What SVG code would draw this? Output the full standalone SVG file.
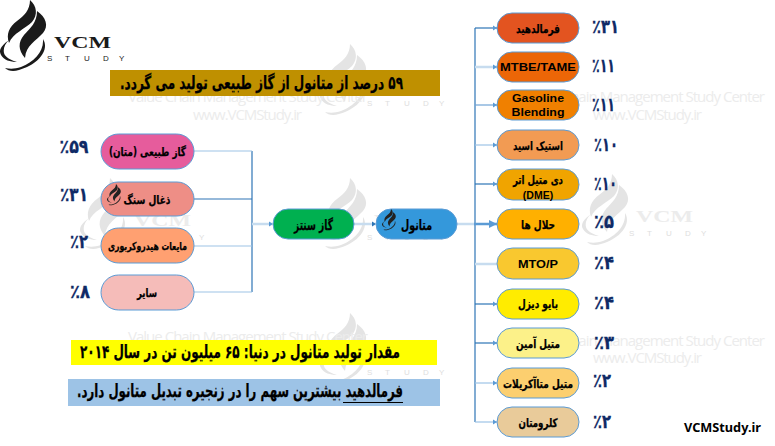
<svg xmlns="http://www.w3.org/2000/svg" width="775" height="446" viewBox="0 0 775 446">
<style>
text{font-family:"DejaVu Sans","Noto Sans",sans-serif;font-weight:700;fill:#000;text-anchor:middle}
.fa{direction:rtl;stroke:#000;stroke-width:.25}
.n{stroke:#5b9bd5;stroke-width:1}
.pct{fill:#0f2a66;font-size:19px;stroke:#0f2a66;stroke-width:.3}
.wm{font-family:"Open Sans","Noto Sans",sans-serif;font-weight:400;fill:#ececec;font-size:15px;text-anchor:start}
.c{fill:none;stroke:#2e75b6;stroke-width:1.2}
.m{stroke:#6fa3d6}.l{stroke:#9dc3e6}.p{stroke:#c7dcef;stroke-width:2.5}
.vcm{font-family:"Liberation Serif",serif;font-size:17px;text-anchor:start}
.st{font-family:"Liberation Sans",sans-serif;font-weight:400;font-size:8px;text-anchor:start}
.la{font-family:"Liberation Sans",sans-serif;font-size:10.500px}
</style>
<defs>
<marker id="a" markerWidth="5" markerHeight="6" refX="4" refY="3" orient="auto" markerUnits="userSpaceOnUse"><path d="M0 .5L4 3L0 5.500Z" fill="#5b9bd5"/></marker>
<marker id="b" markerWidth="9" markerHeight="8" refX="8" refY="4" orient="auto" markerUnits="userSpaceOnUse"><path d="M0 0L8 4L0 8Z" fill="#5b9bd5"/></marker>
<g id="logo">
<path d="M30 0C37 6 38 15 32 22C25 29 13 33 9 43C6 34 9 27 17 21C24 16 30 10 30 0Z"/>
<path d="M37 11C46 17 49 26 43 33C36 41 26 45 25 58C18 50 18 42 24 35C30 28 37 23 37 11Z"/>
<path d="M43 39C50 50 38 65 19 70C13 72 8 71 5 68C10 69 15 69 21 67C34 62 44 52 43 39ZM9 40C2 45-2 50 1 55C4 60 10 62 17 62C10 60 5 57 4 53C3 48 5 44 9 40Z"/>
</g>
<g id="wmk" fill="#e4e4e4"><use href="#logo"/>
<text class="vcm" x="54" y="48" style="fill:#ececec" textLength="57" lengthAdjust="spacingAndGlyphs">VCM</text>
<text class="st" x="47 65 84 103 119" y="62" style="fill:#dedede">STUDY</text></g>
</defs>
<rect width="775" height="446" fill="#fff"/>
<g id="watermarks">
<use href="#wmk" transform="translate(320 44)"/>
<use href="#wmk" transform="translate(320 178)"/>
<use href="#wmk" transform="translate(80 178)"/>
<use href="#wmk" transform="translate(582 174)"/>
<use href="#wmk" transform="translate(320 313)"/>
<text class="wm" x="128" y="102" textLength="240">Value Chain Management Study Center</text>
<text class="wm" x="193" y="120" textLength="109">www.VCMStudy.ir</text>
<text class="wm" x="525" y="102" textLength="240">Value Chain Management Study Center</text>
<text class="wm" x="593" y="120" textLength="109">www.VCMStudy.ir</text>
<text class="wm" x="128" y="342" textLength="240">Value Chain Management Study Center</text>
<text class="wm" x="193" y="361" textLength="109">www.VCMStudy.ir</text>
<text class="wm" x="525" y="346" textLength="240">Value Chain Management Study Center</text>
<text class="wm" x="593" y="363" textLength="109">www.VCMStudy.ir</text>
</g>
<g id="brand" fill="#1a1a1a"><use href="#logo"/>
<text class="vcm" x="54" y="48" style="fill:#1a1a1a" textLength="57" lengthAdjust="spacingAndGlyphs">VCM</text>
<text class="st" x="47 65 84 103 119" y="61" style="fill:#1a1a1a">STUDY</text></g>
<g id="connectors">
<path class="c" d="M252 151V292"/>
<path class="c l" d="M194 151H252"/><path class="c" d="M194 199H252"/><path class="c l" d="M194 246H252"/><path class="c l" d="M194 292H252"/>
<path class="c p" d="M252 224H272"/><path d="M269 221.500L273 224L269 226.500Z" fill="#5b9bd5"/>
<path class="c p" d="M354 224H375"/><path d="M372 221.500L376 224L372 226.500Z" fill="#2e75b6"/>
<path class="c p" d="M457 224H475"/>
<path class="c" d="M475 28V422"/>
<path class="c" d="M475 28H497" marker-end="url(#a)"/>
<path class="c p" d="M475 67H497"/><path d="M493 64.500L497 67L493 69.500Z" fill="#5b9bd5"/>
<path class="c m" d="M475 105H497" marker-end="url(#a)"/>
<path class="c l" d="M475 145H497" marker-end="url(#a)"/>
<path class="c" d="M475 184H497" marker-end="url(#a)"/>
<path class="c" style="stroke:#5b9bd5;stroke-width:2.500" d="M474 224H497" marker-end="url(#b)"/>
<path class="c p" d="M475 264H497"/>
<path class="c" d="M475 304H497" marker-end="url(#a)"/>
<path class="c" d="M475 343H497" marker-end="url(#a)"/>
<path class="c l" d="M475 383H497" marker-end="url(#a)"/>
<path class="c l" d="M475 422H497" marker-end="url(#a)"/>
</g>
<g id="box-top"><rect x="110" y="70" width="330" height="26" fill="#bf9000"/><text class="fa" x="261.500" y="89" font-size="18" textLength="283" lengthAdjust="spacingAndGlyphs">۵۹ درصد از متانول از گاز طبیعی تولید می گردد.</text></g>
<g id="box-yellow"><rect x="71" y="340" width="366" height="25" fill="#ff0"/><text class="fa" x="240" y="358" font-size="18" textLength="320" lengthAdjust="spacingAndGlyphs">مقدار تولید متانول در دنیا: ۶۵ میلیون تن در سال ۲۰۱۴</text></g>
<g id="box-blue"><rect x="68" y="379" width="372" height="27" fill="#9dc3e6"/><text class="fa" x="240" y="397" font-size="18" textLength="326" lengthAdjust="spacingAndGlyphs">فرمالدهید بیشترین سهم را در زنجیره تبدیل متانول دارد.</text><path d="M343 402.500H403" stroke="#000" fill="none"/></g>
<g id="n-gas"><rect class="n" x="101" y="134" width="93" height="35" rx="17.500" fill="#e65c9c"/><text class="fa" x="147.500" y="156" font-size="12" textLength="77" lengthAdjust="spacingAndGlyphs">گاز طبیعی (متان)</text><text class="pct" x="74" y="153" textLength="29" lengthAdjust="spacingAndGlyphs">٪۵۹</text></g>
<g id="n-coal"><rect class="n" x="101" y="182" width="93" height="34" rx="17" fill="#ee8e86"/><use href="#logo" transform="translate(107 184) scale(.3)" fill="#222"/><text class="fa" x="147" y="204" font-size="12" textLength="47" lengthAdjust="spacingAndGlyphs">ذغال سنگ</text><text class="pct" x="74" y="201" textLength="28" lengthAdjust="spacingAndGlyphs">٪۳۱</text></g>
<g id="n-liquid"><rect class="n" x="101" y="228" width="93" height="35" rx="17.500" fill="#ffa071"/><text class="fa" x="147.500" y="250" font-size="11" textLength="79" lengthAdjust="spacingAndGlyphs">مایعات هیدروکربوری</text><text class="pct" x="79" y="248" textLength="18" lengthAdjust="spacingAndGlyphs">٪۲</text></g>
<g id="n-other"><rect class="n" x="101" y="275" width="93" height="35" rx="17.500" fill="#f5bcb9"/><text class="fa" x="147" y="297" font-size="12" textLength="20" lengthAdjust="spacingAndGlyphs">سایر</text><text class="pct" x="80" y="298" textLength="20" lengthAdjust="spacingAndGlyphs">٪۸</text></g>
<g id="n-syngas"><rect class="n" x="273" y="209" width="81" height="30" rx="15" fill="#00b050"/><text class="fa" x="313.500" y="230" font-size="14" textLength="39" lengthAdjust="spacingAndGlyphs">گاز سنتز</text></g>
<g id="n-methanol"><rect class="n" x="376" y="209" width="81" height="30" rx="15" fill="#3498db"/><use href="#logo" transform="translate(382 209) scale(.3)" fill="#222"/><text class="fa" x="416.500" y="230" font-size="14" textLength="31" lengthAdjust="spacingAndGlyphs">متانول</text></g>
<g id="r1"><rect class="n" x="497" y="13" width="82" height="30" rx="15" fill="#e35420"/><text class="fa" x="538" y="33" font-size="12" textLength="44" lengthAdjust="spacingAndGlyphs">فرمالدهید</text><text class="pct" x="605.500" y="33" textLength="27" lengthAdjust="spacingAndGlyphs">٪۳۱</text></g>
<g id="r2"><rect class="n" x="497" y="52" width="82" height="30" rx="15" fill="#ec6607"/><text class="la" x="538" y="71" textLength="76" lengthAdjust="spacingAndGlyphs">MTBE/TAME</text><text class="pct" x="603.500" y="72" textLength="23" lengthAdjust="spacingAndGlyphs">٪۱۱</text></g>
<g id="r3"><rect class="n" x="497" y="90" width="82" height="30" rx="15" fill="#f08000"/><text class="la" x="538" y="102" textLength="52" lengthAdjust="spacingAndGlyphs">Gasoline</text><text class="la" x="538" y="116" textLength="53" lengthAdjust="spacingAndGlyphs">Blending</text><text class="pct" x="603.500" y="111" textLength="23" lengthAdjust="spacingAndGlyphs">٪۱۱</text></g>
<g id="r4"><rect class="n" x="497" y="130" width="82" height="30" rx="15" fill="#f29b53"/><text class="fa" x="538" y="150" font-size="12" textLength="50" lengthAdjust="spacingAndGlyphs">استیک اسید</text><text class="pct" x="606" y="151" textLength="24" lengthAdjust="spacingAndGlyphs">٪۱۰</text></g>
<g id="r5"><rect class="n" x="497" y="169" width="82" height="31" rx="15.500" fill="#f0a400"/><text class="fa" x="538" y="184" font-size="12" textLength="50" lengthAdjust="spacingAndGlyphs">دی متیل اتر</text><text class="la" x="538" y="199">(DME)</text><text class="pct" x="605.500" y="190" textLength="23" lengthAdjust="spacingAndGlyphs">٪۱۰</text></g>
<g id="r6"><rect class="n" x="497" y="209" width="82" height="30" rx="15" fill="#ffb000"/><text class="fa" x="538" y="229" font-size="12" textLength="34" lengthAdjust="spacingAndGlyphs">حلال ها</text><text class="pct" x="604" y="228" textLength="20" lengthAdjust="spacingAndGlyphs">٪۵</text></g>
<g id="r7"><rect class="n" x="497" y="248" width="82" height="31" rx="15.500" fill="#f9c82f"/><text class="la" x="538" y="268" textLength="40" lengthAdjust="spacingAndGlyphs">MTO/P</text><text class="pct" x="604" y="269" textLength="20" lengthAdjust="spacingAndGlyphs">٪۴</text></g>
<g id="r8"><rect class="n" x="497" y="289" width="82" height="30" rx="15" fill="#ffec00"/><text class="fa" x="538" y="308" font-size="12" textLength="40" lengthAdjust="spacingAndGlyphs">بایو دیزل</text><text class="pct" x="604" y="309" textLength="20" lengthAdjust="spacingAndGlyphs">٪۴</text></g>
<g id="r9"><rect class="n" x="497" y="328" width="82" height="30" rx="15" fill="#fcf189"/><text class="fa" x="538" y="348" font-size="12" textLength="44" lengthAdjust="spacingAndGlyphs">متیل آمین</text><text class="pct" x="604" y="349" textLength="20" lengthAdjust="spacingAndGlyphs">٪۳</text></g>
<g id="r10"><rect class="n" x="497" y="368" width="82" height="30" rx="15" fill="#fccf6f"/><text class="fa" x="538" y="388" font-size="12" textLength="70" lengthAdjust="spacingAndGlyphs">متیل متاآکریلات</text><text class="pct" x="602" y="387" textLength="18" lengthAdjust="spacingAndGlyphs">٪۲</text></g>
<g id="r11"><rect class="n" x="497" y="407" width="82" height="30" rx="15" fill="#e9cb9a"/><text class="fa" x="538" y="427" font-size="12" textLength="39" lengthAdjust="spacingAndGlyphs">کلرومتان</text><text class="pct" x="602" y="428" textLength="18" lengthAdjust="spacingAndGlyphs">٪۲</text></g>
<text x="722.500" y="432" font-size="12.500" textLength="77" lengthAdjust="spacingAndGlyphs" style="font-family:'Noto Sans',sans-serif">VCMStudy.ir</text>
</svg>
